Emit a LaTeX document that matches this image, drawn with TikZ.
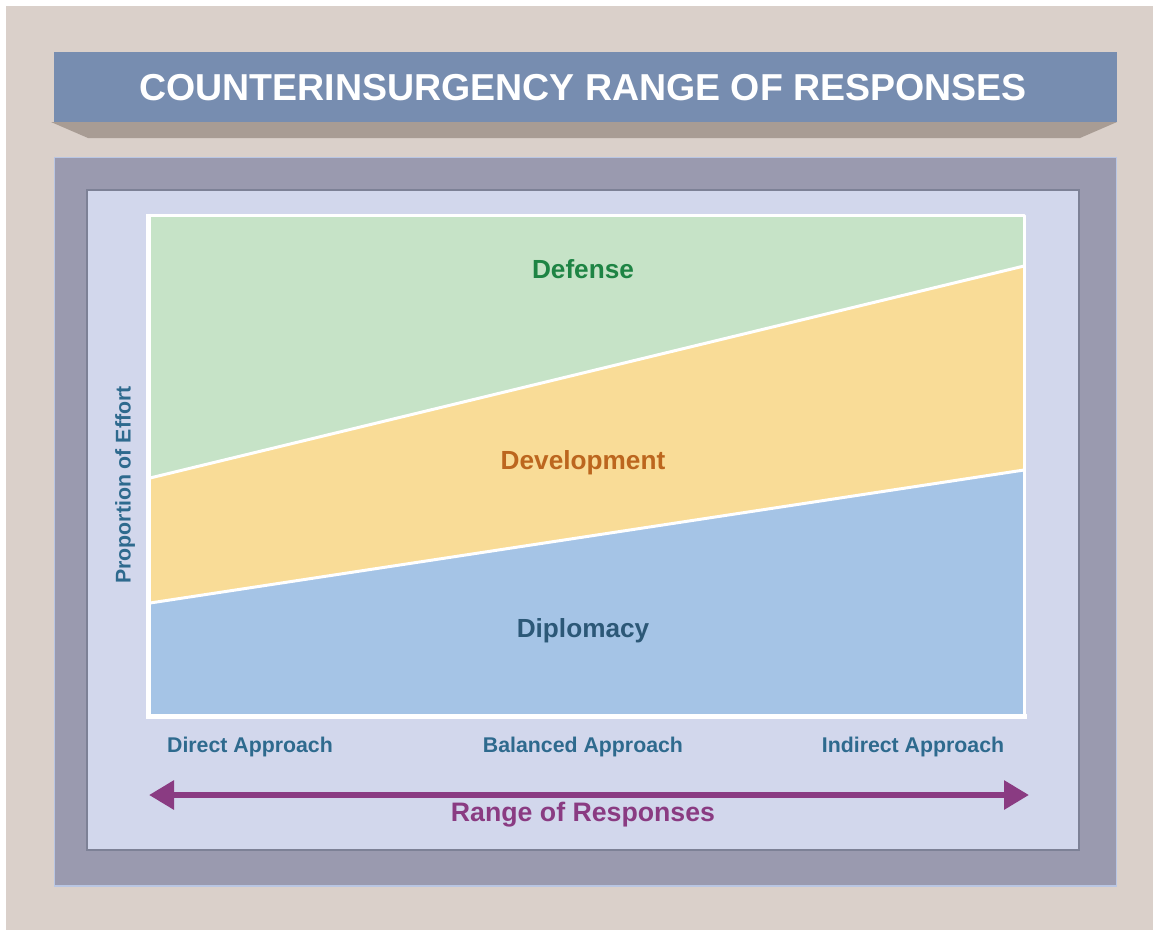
\documentclass[tikz,border=0pt]{standalone}
\usepackage{fontspec}
\setmainfont{Liberation Sans}
\usepackage{tikz}
\usetikzlibrary{arrows.meta}

\definecolor{bgbeige}{HTML}{DAD0CA}
\definecolor{titleblue}{HTML}{778DB0}
\definecolor{titleshade}{HTML}{A89C94}
\definecolor{framegrey}{HTML}{9A9AAF}
\definecolor{frameline}{HTML}{B9C6E3}
\definecolor{panelblue}{HTML}{D2D7EC}
\definecolor{panelline}{HTML}{7D8196}
\definecolor{defgreen}{HTML}{C6E3C7}
\definecolor{devyellow}{HTML}{F9DC97}
\definecolor{dipblue}{HTML}{A5C4E6}
\definecolor{defdark}{HTML}{1E8444}
\definecolor{devdark}{HTML}{BC661E}
\definecolor{dipdark}{HTML}{2C5877}
\definecolor{axisblue}{HTML}{2E6A8E}
\definecolor{rangepurple}{HTML}{8A3B82}

\tikzset{
  bandlabel/.style={font=\fontsize{26.2}{31}\selectfont\bfseries, anchor=base},
  approach/.style={font=\fontsize{21.3}{25}\selectfont\bfseries, text=axisblue, anchor=base},
  divider/.style={white, line width=3pt},
  rangearrow/.style={rangepurple, line width=6pt, {Triangle[length=25pt,width=28pt]}-{Triangle[length=25pt,width=28pt]}}
}

\begin{document}
\begin{tikzpicture}[x=1pt,y=-1pt]
	\useasboundingbox (0,0) rectangle (1153,930);
	\fill[white] (0,0) rectangle (1153,930);
	\fill[bgbeige] (6,6) rectangle (1153,930);

	% title bar
	\fill[titleshade] (51,122) -- (1117,122) -- (1080,138) -- (88,138) -- cycle;
	\fill[titleblue] (54,52) rectangle (1117,122);
	\node[font=\fontsize{37.5}{44}\selectfont\bfseries, text=white, anchor=base] (title) at (583,100) {COUNTERINSURGENCY RANGE OF RESPONSES};

	% frames
	\filldraw[fill=framegrey, draw=frameline, line width=1.5pt] (54.5,157.5) rectangle (1116.5,886);
	\filldraw[fill=panelblue, draw=panelline, line width=2pt] (87,190) rectangle (1079,850);

	% bands
	\fill[dipblue] (151,603) -- (1024,470) -- (1024,716) -- (151,716) -- cycle;
	\fill[devyellow] (151,478) -- (1024,266) -- (1024,470) -- (151,603) -- cycle;
	\fill[defgreen] (151,215) -- (1024,215) -- (1024,266) -- (151,478) -- cycle;
	\draw[divider] (150,478) -- (1024,266);
	\draw[divider] (150,603) -- (1024,470);
	\draw[white, line width=3pt, line join=round] (148.5,215) -- (1024.5,215) -- (1024.5,716.5);
	\draw[white, line width=5pt] (148.5,213.5) -- (148.5,716.5) -- (1027,716.5);

	\node[bandlabel, text=defdark] (defense) at (583,278) {Defense};
	\node[bandlabel, text=devdark] (development) at (583,469.5) {Development};
	\node[bandlabel, text=dipdark] (diplomacy) at (583,637) {Diplomacy};

	\node[approach, rotate=90] (effort) at (130.5,485) {Proportion of Effort};

	\node[approach] (direct) at (250,752) {Direct Approach};
	\node[approach] (balanced) at (583,752) {Balanced Approach};
	\node[approach] (indirect) at (913,752) {Indirect Approach};

	% range arrow
	\coordinate (rangeleft) at (149,795);
	\coordinate (rangeright) at (1029,795);
	\draw[rangearrow] (rangeleft) -- (rangeright);
	\node[font=\fontsize{26.7}{32}\selectfont\bfseries, text=rangepurple, anchor=base] (range) at (583,821) {Range of Responses};
\end{tikzpicture}
\end{document}
